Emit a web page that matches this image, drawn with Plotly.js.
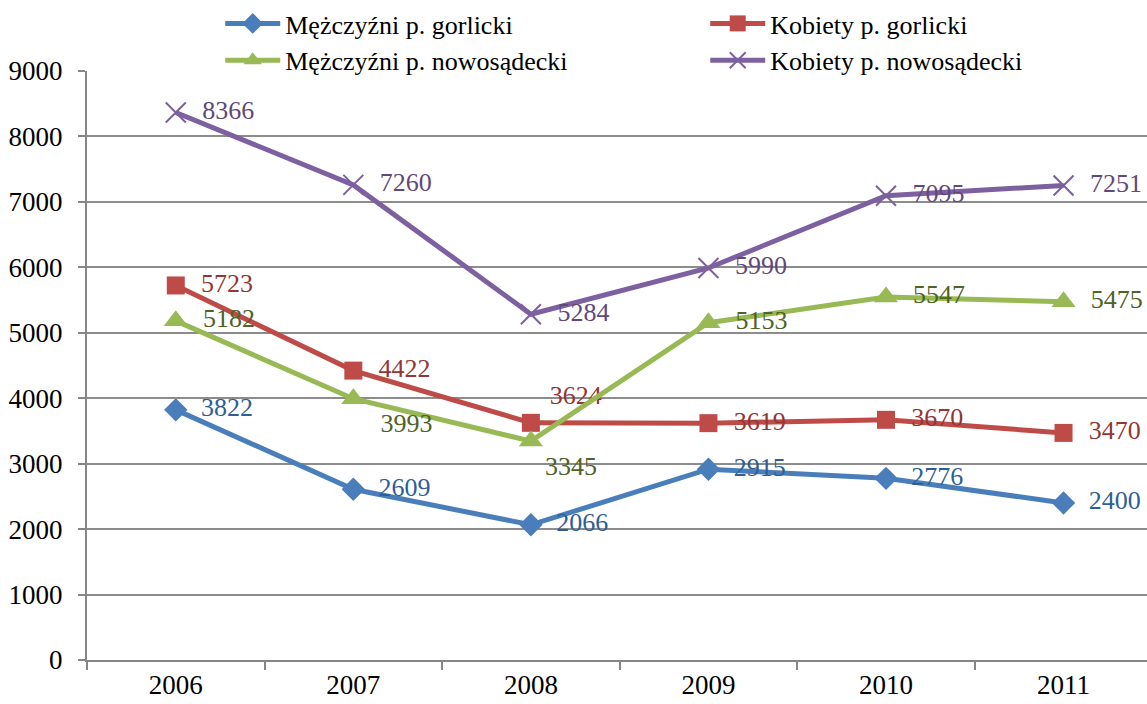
<!DOCTYPE html>
<html>
<head>
<meta charset="utf-8">
<script src="https://cdn.plot.ly/plotly-3.0.1.min.js"></script>
<style>html,body{margin:0;padding:0;background:#fff;}#chart{width:1147px;height:704px;}</style>
</head>
<body>
<div id="chart"></div>
<script>
const years = ['2006', '2007', '2008', '2009', '2010', '2011'];
const seriesNames = ['Mężczyźni p. gorlicki', 'Kobiety p. gorlicki', 'Mężczyźni p. nowosądecki', 'Kobiety p. nowosądecki'];
const menGorlicki = [3822, 2609, 2066, 2915, 2776, 2400];
const womenGorlicki = [5723, 4422, 3624, 3619, 3670, 3470];
const menNowosadecki = [5182, 3993, 3345, 5153, 5547, 5475];
const womenNowosadecki = [8366, 7260, 5284, 5990, 7095, 7251];
const yTicks = [0, 1000, 2000, 3000, 4000, 5000, 6000, 7000, 8000, 9000];

const font = '"Liberation Serif", "Times New Roman", serif';
const FS = 26;
const NB = '\u00A0';
// left padding (in non-breaking spaces) per label
function mk(name, y, color, textColor, symbol, size, positions, pads, lineW) {
  return {
    type: 'scatter', mode: 'lines+markers+text', name: name, x: years, y: y,
    text: y.map((v, i) => NB.repeat(pads[i]) + String(v)),
    textposition: positions,
    textfont: {family: font, size: FS, color: textColor},
    line: {color: color, width: 5},
    marker: {symbol: symbol, size: size, color: color, line: {color: color, width: lineW || 0}},
    cliponaxis: false
  };
}
const R = 'middle right';
const traces = [
  mk(seriesNames[0], menGorlicki, '#4A7EBB', '#2F5E96', 'diamond', 18, [R,R,R,R,R,R], [2,2,2,2,2,2]),
  mk(seriesNames[1], womenGorlicki, '#BE4B48', '#943634', 'square', 18, [R,R,'top right',R,R,R], [2,2,1,2,2,2]),
  mk(seriesNames[2], menNowosadecki, '#98B954', '#4F6228', 'triangle-up', 21, [R,'bottom right','bottom right',R,R,R], [2,2,0,2,2,2]),
  mk(seriesNames[3], womenNowosadecki, '#7D60A0', '#5F497A', 'x-thin', 20, [R,R,R,R,R,R], [2,2,2,2,2,2], 2)
];

const layout = {
  width: 1147, height: 704,
  margin: {l: 87, r: 0, t: 71, b: 44, autoexpand: false},
  paper_bgcolor: '#fff', plot_bgcolor: '#fff',
  font: {family: font, size: FS, color: '#000'},
  showlegend: true,
  legend: {
    orientation: 'h', xref: 'container', yref: 'container',
    x: 0.192, y: 1.0, xanchor: 'left', yanchor: 'top',
    entrywidth: 415, font: {family: font, size: FS, color: '#000'},
    tracegroupgap: 0, itemwidth: 55, bgcolor: 'rgba(0,0,0,0)'
  },
  xaxis: {
    type: 'category', range: [-0.5, 5.47],
    showgrid: false, showline: true, linecolor: '#868686', linewidth: 2,
    ticks: 'outside', tickson: 'boundaries', ticklen: 8, tickcolor: '#868686', tickwidth: 2,
    tickfont: {family: font, size: 27, color: '#000'}, zeroline: false
  },
  yaxis: {
    range: [0, 9000], tickvals: yTicks, ticktext: yTicks.map(String),
    showgrid: true, gridcolor: '#8C8C8C', gridwidth: 2,
    showline: true, linecolor: '#868686', linewidth: 2,
    ticks: 'outside', ticklen: 7, tickcolor: '#868686', tickwidth: 2,
    tickfont: {family: font, size: 27, color: '#000'}, zeroline: false,
    ticklabelstandoff: 10
  }
};
Plotly.newPlot('chart', traces, layout, {displayModeBar: false});
</script>
</body>
</html>
